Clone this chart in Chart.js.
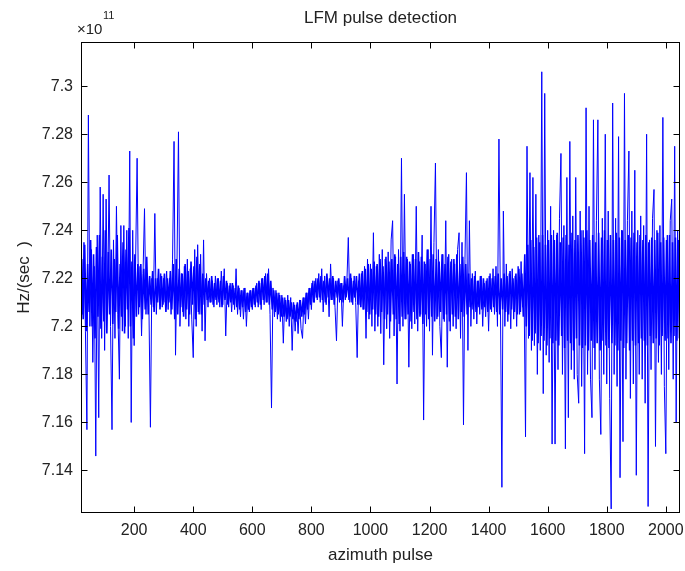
<!DOCTYPE html>
<html>
<head>
<meta charset="utf-8">
<script src="https://cdn.jsdelivr.net/npm/chart.js@4.4.1/dist/chart.umd.min.js"></script>
<style>
  body { margin: 0; background: #fff; }
  #wrap { width: 685px; height: 571px; }
</style>
</head>
<body>
<div id="wrap"><canvas id="myChart" width="685" height="571"></canvas></div>
<script>
// chirp rate per azimuth pulse, in units of 1e11 Hz/sec^2
// one value every 5 pulses, starting at pulse 20
const pulseStart = 20;
const pulseStep = 5;

// pulses 20 - 515
const rateEarly = [
  7.244,7.205,7.235,7.198,7.157,7.288,7.200,7.232,7.185,7.225,7.146,7.238,7.162,7.258,7.195,7.255,7.190,7.253,7.205,7.263,
  7.200,7.157,7.236,7.195,7.250,7.205,7.178,7.242,7.198,7.242,7.200,7.240,7.195,7.273,7.160,7.240,7.192,7.228,7.270,7.205,
  7.225,7.196,7.222,7.249,7.205,7.222,7.208,7.158,7.220,7.208,7.247,7.205,7.220,7.210,7.222,7.208,7.220,7.210,7.223,7.207,
  7.220,7.205,7.228,7.277,7.188,7.226,7.281,7.200,7.222,7.206,7.225,7.203,7.228,7.200,7.224,7.203,7.187,7.232,7.200,7.234,
  7.205,7.230,7.198,7.236,7.194,7.222,7.208,7.220,7.210,7.219,7.208,7.221,7.209,7.220,7.208,7.223,7.209,7.224,7.196,7.218
];
// pulses 520 - 1015
const rateMiddle = [
  7.208,7.218,7.206,7.217,7.207,7.224,7.205,7.216,7.204,7.215,7.203,7.216,7.200,7.214,7.206,7.215,7.207,7.216,7.208,7.218,
  7.208,7.218,7.207,7.220,7.209,7.222,7.210,7.224,7.205,7.166,7.216,7.204,7.215,7.203,7.214,7.202,7.213,7.193,7.212,7.202,
  7.213,7.200,7.212,7.190,7.210,7.198,7.209,7.197,7.211,7.199,7.195,7.212,7.201,7.214,7.203,7.216,7.207,7.219,7.210,7.220,
  7.211,7.222,7.210,7.224,7.206,7.221,7.209,7.220,7.204,7.226,7.211,7.220,7.208,7.194,7.219,7.210,7.218,7.200,7.217,7.211,
  7.218,7.237,7.210,7.220,7.209,7.221,7.210,7.187,7.219,7.209,7.222,7.207,7.225,7.195,7.228,7.203,7.226,7.200,7.239,7.198
];
// pulses 1020 - 1515
const rateLate = [
  7.225,7.200,7.230,7.197,7.232,7.184,7.228,7.199,7.231,7.195,7.236,7.244,7.196,7.229,7.176,7.232,7.198,7.270,7.200,7.255,
  7.203,7.228,7.183,7.226,7.199,7.230,7.201,7.250,7.198,7.227,7.205,7.238,7.161,7.226,7.200,7.232,7.198,7.250,7.188,7.235,
  7.268,7.203,7.232,7.200,7.187,7.230,7.202,7.244,7.183,7.230,7.198,7.228,7.200,7.226,7.199,7.232,7.239,7.195,7.235,7.159,
  7.228,7.264,7.190,7.244,7.200,7.222,7.203,7.223,7.201,7.219,7.205,7.221,7.200,7.218,7.204,7.220,7.198,7.222,7.206,7.224,
  7.205,7.225,7.200,7.278,7.210,7.133,7.248,7.200,7.226,7.202,7.222,7.199,7.224,7.203,7.221,7.200,7.225,7.205,7.227,7.208
];
// pulses 1520 - 2045
const rateEnd = [
  7.215,7.154,7.275,7.195,7.264,7.190,7.262,7.192,7.255,7.180,7.238,7.190,7.306,7.172,7.297,7.188,7.240,7.185,7.250,7.151,
  7.240,7.151,7.238,7.182,7.245,7.272,7.180,7.242,7.149,7.262,7.162,7.277,7.182,7.246,7.178,7.262,7.180,7.168,7.248,7.175,
  7.240,7.147,7.291,7.180,7.250,7.178,7.162,7.286,7.182,7.244,7.286,7.178,7.155,7.245,7.180,7.280,7.176,7.248,7.170,7.124,
  7.293,7.180,7.245,7.175,7.279,7.137,7.240,7.152,7.297,7.178,7.244,7.273,7.170,7.248,7.176,7.265,7.138,7.240,7.180,7.246,
  7.178,7.242,7.168,7.280,7.125,7.236,7.182,7.245,7.257,7.150,7.240,7.185,7.242,7.180,7.287,7.175,7.147,7.238,7.182,7.244,
  7.253,7.178,7.275,7.160,7.240,7.195
];

// the in-between samples (pulse 22.5, 27.5, ...) - these sit in the dense core of the trace
const innerOffset = 2.5;
const rateInner = [
  7.228,7.203,7.234,7.198,7.226,7.206,7.236,7.200,7.230,7.195,7.233,7.204,7.238,7.199,7.229,7.202,7.240,7.197,7.231,7.205,
  7.232,7.201,7.228,7.206,7.238,7.199,7.226,7.204,7.235,7.197,7.232,7.207,7.241,7.200,7.227,7.195,7.230,7.204,7.226,7.208,
  7.226,7.203,7.224,7.207,7.229,7.205,7.221,7.209,7.223,7.206,7.220,7.210,7.224,7.207,7.221,7.209,7.222,7.206,7.220,7.210,
  7.223,7.207,7.226,7.203,7.228,7.205,7.224,7.208,7.222,7.204,7.226,7.207,7.223,7.205,7.227,7.209,7.225,7.203,7.229,7.206,
  7.226,7.205,7.222,7.209,7.220,7.211,7.219,7.210,7.221,7.209,7.218,7.211,7.220,7.210,7.219,7.208,7.221,7.211,7.219,7.209,
  7.217,7.210,7.218,7.209,7.216,7.208,7.217,7.207,7.215,7.208,7.216,7.206,7.214,7.207,7.215,7.208,7.216,7.209,7.217,7.210,
  7.219,7.209,7.220,7.211,7.221,7.210,7.222,7.209,7.219,7.207,7.215,7.206,7.214,7.205,7.213,7.204,7.212,7.204,7.211,7.203,
  7.211,7.204,7.210,7.203,7.209,7.202,7.210,7.203,7.211,7.204,7.212,7.205,7.214,7.207,7.216,7.209,7.218,7.210,7.219,7.212,
  7.220,7.212,7.221,7.211,7.219,7.210,7.222,7.212,7.220,7.211,7.221,7.209,7.219,7.212,7.220,7.211,7.218,7.210,7.221,7.212,
  7.220,7.211,7.222,7.210,7.219,7.212,7.221,7.209,7.222,7.208,7.223,7.207,7.224,7.206,7.226,7.205,7.224,7.207,7.227,7.205,
  7.226,7.204,7.228,7.206,7.225,7.203,7.229,7.205,7.227,7.202,7.228,7.205,7.230,7.203,7.226,7.201,7.229,7.204,7.231,7.203,
  7.229,7.205,7.227,7.202,7.230,7.206,7.228,7.203,7.231,7.204,7.229,7.201,7.227,7.205,7.232,7.203,7.228,7.204,7.230,7.202,
  7.228,7.204,7.227,7.206,7.230,7.203,7.226,7.205,7.229,7.202,7.227,7.205,7.228,7.204,7.230,7.203,7.226,7.206,7.229,7.204,
  7.226,7.205,7.222,7.208,7.220,7.207,7.221,7.206,7.219,7.208,7.221,7.207,7.220,7.208,7.219,7.206,7.221,7.207,7.220,7.208,
  7.221,7.206,7.222,7.205,7.220,7.207,7.222,7.206,7.221,7.205,7.223,7.207,7.220,7.206,7.222,7.205,7.224,7.206,7.222,7.204,
  7.230,7.200,7.234,7.196,7.236,7.194,7.233,7.197,7.237,7.193,7.235,7.196,7.238,7.194,7.234,7.192,7.236,7.195,7.238,7.193,
  7.236,7.194,7.239,7.192,7.235,7.196,7.237,7.191,7.238,7.194,7.234,7.193,7.239,7.190,7.236,7.195,7.238,7.192,7.240,7.191,
  7.237,7.192,7.240,7.190,7.236,7.194,7.238,7.191,7.235,7.193,7.239,7.190,7.237,7.194,7.240,7.192,7.236,7.191,7.238,7.193,
  7.236,7.192,7.239,7.190,7.237,7.194,7.240,7.191,7.236,7.193,7.238,7.190,7.237,7.194,7.239,7.192,7.235,7.193,7.238,7.195,
  7.236,7.194,7.238,7.192,7.235,7.196,7.237,7.193,7.236,7.195,7.239,7.192,7.235,7.196,7.237,7.194,7.236,7.195,7.238,7.193,
  7.235,7.196,7.237,7.194,7.236,7.197
];

const xTicks = [200, 400, 600, 800, 1000, 1200, 1400, 1600, 1800, 2000];
const xTickLabels = ['200', '400', '600', '800', '1000', '1200', '1400', '1600', '1800', '2000'];
const yTicks = [7.14, 7.16, 7.18, 7.2, 7.22, 7.24, 7.26, 7.28, 7.3];
const yTickLabels = ['7.14', '7.16', '7.18', '7.2', '7.22', '7.24', '7.26', '7.28', '7.3'];

const rates = rateEarly.concat(rateMiddle, rateLate, rateEnd);
const points = rates.map((r, i) => ({ x: pulseStart + i * pulseStep, y: r }));
const innerPoints = rateInner.map((r, i) => ({ x: pulseStart + innerOffset + i * pulseStep, y: r }));

const FONT = "'Liberation Sans', Arial, sans-serif";
const TEXT = '#222';
const BLUE = '#0000ff';

// matlab style box: frame all round, ticks pointing inwards, axis labels, exponent
const matlabFrame = {
  id: 'matlabFrame',
  afterDraw(chart) {
    const { ctx, chartArea: a, scales } = chart;
    const L = Math.round(a.left) + 0.5, R = Math.round(a.right) - 0.5;
    const T = Math.round(a.top) + 0.5, B = Math.round(a.bottom) - 0.5;
    ctx.save();
    ctx.strokeStyle = '#000';
    ctx.lineWidth = 1;
    ctx.strokeRect(L, T, R - L, B - T);
    ctx.beginPath();
    xTicks.forEach(v => {
      const px = Math.round(scales.x.getPixelForValue(v)) + 0.5;
      ctx.moveTo(px, B); ctx.lineTo(px, B - 6);
      ctx.moveTo(px, T); ctx.lineTo(px, T + 6);
    });
    yTicks.forEach(v => {
      const py = Math.round(scales.y.getPixelForValue(v)) + 0.5;
      ctx.moveTo(L, py); ctx.lineTo(L + 6, py);
      ctx.moveTo(R, py); ctx.lineTo(R - 6, py);
    });
    ctx.stroke();

    ctx.fillStyle = TEXT;
    ctx.textAlign = 'center';
    ctx.textBaseline = 'middle';
    ctx.font = '17px ' + FONT;
    ctx.fillText('azimuth pulse', (a.left + a.right) / 2, 555);

    ctx.save();
    ctx.translate(24, (a.top + a.bottom) / 2);
    ctx.rotate(-Math.PI / 2);
    ctx.fillText('Hz/(sec  )', 0, 0);
    ctx.restore();

    ctx.textAlign = 'left';
    ctx.textBaseline = 'alphabetic';
    ctx.font = '15px ' + FONT;
    ctx.fillText('\u00d710', 77, 34);
    ctx.font = '11px ' + FONT;
    ctx.fillText('11', 103, 19);
    ctx.restore();
  }
};

const myChart = new Chart(document.getElementById('myChart'), {
  type: 'line',
  data: {
    datasets: [
      {
        data: points,
        borderColor: BLUE,
        borderWidth: 1,
        pointRadius: 0,
        tension: 0,
        fill: false
      },
      {
        data: innerPoints,
        borderColor: BLUE,
        borderWidth: 1.6,
        pointRadius: 0,
        tension: 0,
        fill: false
      }
    ]
  },
  options: {
    responsive: false,
    animation: false,
    events: [],
    layout: { padding: { left: 0, right: 5, top: 0, bottom: 0 } },
    plugins: {
      legend: { display: false },
      tooltip: { enabled: false },
      title: {
        display: true,
        fullSize: false,
        text: 'LFM pulse detection',
        color: TEXT,
        font: { family: FONT, size: 17, weight: 'normal' },
        padding: { top: 8, bottom: 13.6 }
      }
    },
    scales: {
      x: {
        type: 'linear',
        min: 20,
        max: 2048,
        grid: { display: false, drawTicks: false },
        border: { display: false },
        ticks: {
          color: TEXT,
          font: { family: FONT, size: 16 },
          padding: 8,
          maxRotation: 0,
          autoSkip: false,
          callback: (v, i) => xTickLabels[i]
        },
        afterBuildTicks: s => { s.ticks = xTicks.map(v => ({ value: v })); },
        afterFit: s => { s.height = 58; s.paddingLeft = 0; s.paddingRight = 0; }
      },
      y: {
        type: 'linear',
        min: 7.1223,
        max: 7.3184,
        grid: { display: false, drawTicks: false },
        border: { display: false },
        ticks: {
          color: TEXT,
          font: { family: FONT, size: 16 },
          padding: 8,
          autoSkip: false,
          callback: (v, i) => yTickLabels[i]
        },
        afterBuildTicks: s => { s.ticks = yTicks.map(v => ({ value: v })); },
        afterFit: s => { s.width = 81; }
      }
    }
  },
  plugins: [matlabFrame]
});
</script>
</body>
</html>
